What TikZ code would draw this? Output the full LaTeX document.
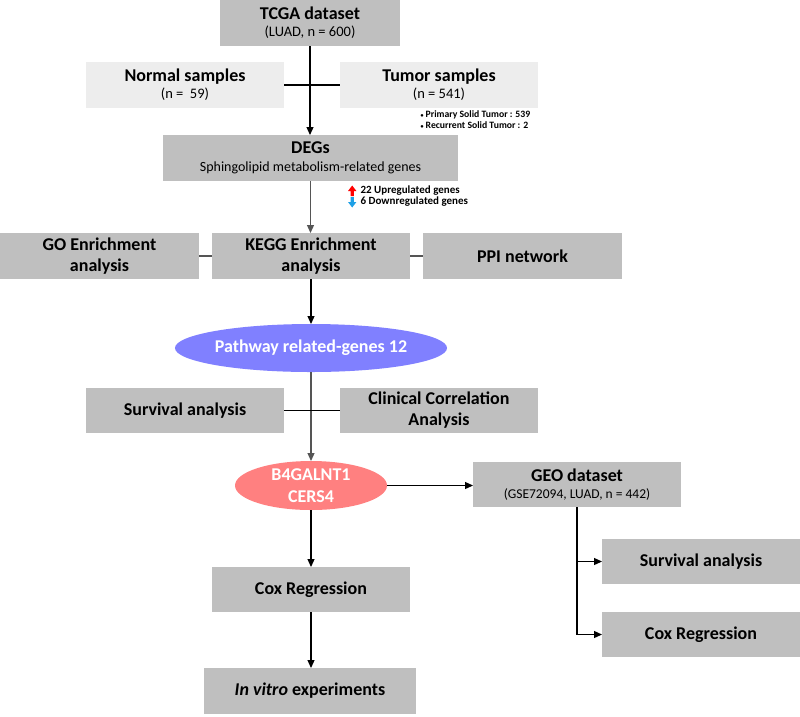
\documentclass[tikz,border=0pt]{standalone}
\usepackage{fontspec}
\setmainfont{Carlito}
\usetikzlibrary{shapes.geometric,arrows.meta}

\definecolor{boxgray}{RGB}{191,191,191}
\definecolor{boxlight}{RGB}{237,237,237}
\definecolor{pathblue}{RGB}{128,128,255}
\definecolor{genered}{RGB}{255,128,128}
\definecolor{linegray}{RGB}{85,85,85}
\definecolor{downblue}{RGB}{30,160,230}

\begin{document}
\begin{tikzpicture}[x=1pt,y=-1pt,
    box/.style={fill=boxgray,inner sep=0pt,outer sep=0pt,minimum width=198pt,minimum height=45pt,
      align=center,font=\fontsize{18}{21}\selectfont\bfseries},
    lightbox/.style={box,fill=boxlight},
    oval/.style={ellipse,inner sep=0pt,outer sep=0pt,text=white,align=center,
      font=\fontsize{18}{22}\selectfont\bfseries},
    flow/.style={-{Triangle[length=8pt,width=7pt]},line width=1.2pt},
    link/.style={line width=1.1pt}]
  \useasboundingbox (0,0) rectangle (800,716);

  % TCGA part
  \node[box,minimum width=180pt,minimum height=46pt] (tcga) at (310,23)
    {TCGA dataset\\[-4pt]{\mdseries\fontsize{14.5}{16}\selectfont (LUAD, n = 600)}};
  \node[lightbox,minimum height=46pt] (normal) at (185,85)
    {Normal samples\\[-4pt]{\mdseries\fontsize{14.5}{16}\selectfont (n =\ \ 59)}};
  \node[lightbox,minimum height=46pt] (tumor) at (439,85)
    {Tumor samples\\[-4pt]{\mdseries\fontsize{14.5}{16}\selectfont (n = 541)}};
  \node[anchor=west,font=\fontsize{9.7}{11}\selectfont\bfseries,align=left] (subtypes) at (417,119.5)
    {{\fontsize{6}{6}\selectfont•} Primary Solid Tumor : 539\\{\fontsize{6}{6}\selectfont•} Recurrent Solid Tumor : 2};

  \node[box,minimum width=295pt,minimum height=46pt] (degs) at (310.5,158)
    {DEGs\\[-3pt]{\mdseries\fontsize{14}{16}\selectfont Sphingolipid metabolism-related genes}};
  \node[anchor=west,font=\fontsize{11}{12}\selectfont\bfseries] (upreg) at (357,191) {22 Upregulated genes};
  \node[anchor=west,font=\fontsize{11}{12}\selectfont\bfseries] (downreg) at (357,202) {6 Downregulated genes};
  \fill[red] (350.6,196) -- (350.6,191) -- (348,191) -- (352.2,185.5) -- (356.4,191) -- (353.8,191) -- (353.8,196) -- cycle;
  \fill[downblue] (350.6,197) -- (350.6,202) -- (348,202) -- (352.2,207.5) -- (356.4,202) -- (353.8,202) -- (353.8,197) -- cycle;

  % enrichment
  \node[box,minimum width=199pt,minimum height=46pt] (go) at (99.5,256) {GO Enrichment\\analysis};
  \node[box,minimum height=46pt] (kegg) at (311,256) {KEGG Enrichment\\analysis};
  \node[box,minimum width=199pt,minimum height=46pt] (ppi) at (522.5,256) {PPI network};

  \node[oval,fill=pathblue,minimum width=252pt,minimum height=48pt] (pathway) at (311,348)
    {Pathway related-genes 12};

  \node[box] (survival) at (185,410.5) {Survival analysis};
  \node[box] (clinical) at (439,410.5) {Clinical Correlation\\Analysis};

  \node[oval,fill=genered,minimum width=152pt,minimum height=49pt] (genes) at (311,485.5)
    {B4GALNT1\\CERS4};

  % validation
  \node[box,minimum width=208pt] (geo) at (577,484.5)
    {GEO dataset\\[-4pt]{\mdseries\fontsize{13.5}{15}\selectfont (GSE72094, LUAD, n = 442)}};
  \node[box] (geosurv) at (701,561.5) {Survival analysis};
  \node[box] (geocox) at (701,634.5) {Cox Regression};

  \node[box] (cox) at (311,589.5) {Cox Regression};
  \node[box,minimum width=212pt,minimum height=46pt] (vitro) at (310,691) {\textit{In vitro} experiments};

  % connectors
  \draw[flow] (tcga.south) -- (tcga.south |- degs.north);
  \draw[link] (normal) -- (tumor);
  \draw[flow,linegray] (degs.south) -- (degs.south |- kegg.north);
  \draw[link,linegray] (go) -- (kegg);
  \draw[link,linegray] (kegg) -- (ppi);
  \draw[flow] (kegg) -- (pathway);
  \draw[flow,linegray] (pathway) -- (genes);
  \draw[link] (survival) -- (clinical);
  \draw[flow] (genes.east) -- (genes.east -| geo.west);
  \draw[flow] (genes) -- (cox);
  \draw[flow] (cox) -- (vitro.north -| cox.south);
  \draw[flow] (geo.south) |- (geosurv.west);
  \draw[flow] (geo.south) |- (geocox.west);
\end{tikzpicture}
\end{document}
